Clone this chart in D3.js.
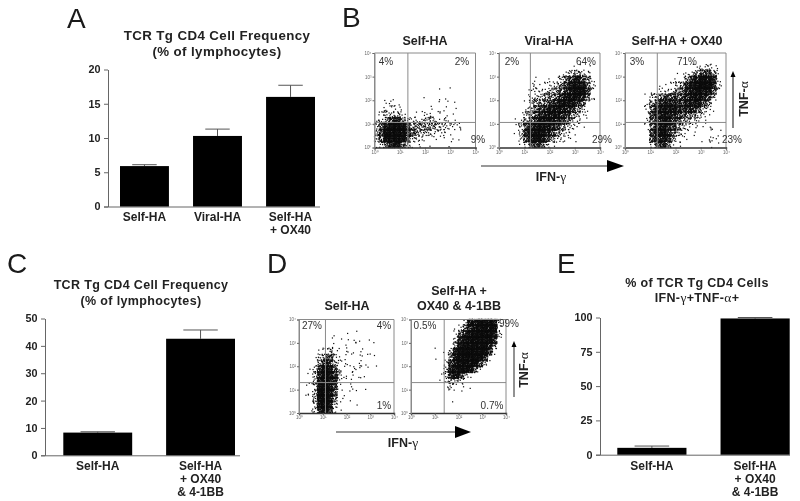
<!DOCTYPE html>
<html><head><meta charset="utf-8">
<script src="https://cdn.jsdelivr.net/npm/d3@7"></script>
<style>
html,body{margin:0;padding:0;background:#fff}
svg{display:block;filter:blur(.5px)}
text{font-family:"Liberation Sans",Arial,sans-serif;fill:#222}
.b{font-weight:700}
.g{font-family:"Liberation Serif",serif;font-weight:400}
</style></head><body>
<svg id="c" width="800" height="501"></svg>
<script>
// ---- bar data
const catsA = [["Self-HA"],["Viral-HA"],["Self-HA","+ OX40"]];
const valsA = [5.9,10.3,16.0];
const topsA = [6.1,11.3,17.7];
const ticksA = [0,5,10,15,20];
const catsC = [["Self-HA"],["Self-HA","+ OX40","& 4-1BB"]];
const valsC = [8.3,42.6];
const topsC = [8.6,45.8];
const ticksC = [0,10,20,30,40,50];
const catsE = [["Self-HA"],["Self-HA","+ OX40","& 4-1BB"]];
const valsE = [5,99.3];
const topsE = [6.3,100];
const ticksE = [0,25,50,75,100];
const titleAC = ["TCR Tg CD4 Cell Frequency","(% of lymphocytes)"];

// ---- flow-plot data. Each grid is a density map:
// 16 rows (top = 10^4) x 20 columns (left = 10^0), digit 0-9 = relative dot density.
// The dots are a fixed stipple of these cells, not the original individual events.
const logTicks = [1,10,100,1000,10000];
const tickNames = ["10⁰","10¹","10²","10³","10⁴"];
const gridB1 = [
"00000000000000000000","00000000000000000000","00000000000000000000","00000000000000000000",
"00000000000000000000","00000000000010100000","00000000000000000000","00100000010001100000",
"00121000000110101000","01222100001111101000","02333211112211110000","23477532233322211000",
"35899964444433222100","36999975433222111000","35999963221111011000","23578531111000110000"];
const gridB2 = [
"00000000000000000000","00000000000000000000","00000000000000011100","00000000000012343210",
"00000011011235686420","00000012122346888520","00000022233457899620","00000023344578988420",
"00000134456788865200","00000235678887643100","00001346788876432100","00012457888765321100",
"00013678987643211000","00013789976432110000","00002689864321100000","00001356531100010000"];
const gridB3 = [
"00000000000000000000","00000000000000000000","00000000000001223210","00000000001123466420",
"00000000011247899720","00000001123478999720","00000112234578988520","00001345665678976300",
"00002467776677854100","00002578887677532100","00002678876554321000","00002578865432211000",
"00001578764321111110","00001689753211101110","00000678742110001210","00000357421100011110"];
const gridD1 = [
"00000000000000000000","00000000000000000000","00000001001010000000","00000001011110100000",
"00000111111111010000","00001232111111100000","00013453111111110000","00014763211111101000",
"00136985211211100000","00137986311111000000","00138987211110000000","01138986111100100000",
"01139985111010000000","01139984111000000000","00138983100010000000","00127962100000000000"];
const gridD2 = [
"00000000001288999830","00000000012578999920","00000000025789999830","00000000037899999700",
"00000100148999998400","00000001389999996200","00000101489999972000","00000002689999630000",
"00000003789985200000","00000013786310000000","00000012432100000000","00000001211010000000",
"00000000101000000000","00000000100000000000","00000000000000000000","00000000000000000000"];
const titlesB = ["Self-HA","Viral-HA","Self-HA + OX40"];
const pctB = [["4%","2%","9%"],["2%","64%","29%"],["3%","71%","23%"]];
const pctD = [["27%","4%","1%"],["0.5%","99%","0.7%"]];
const gammaName = ["IFN-","γ"], alphaName = ["TNF-","α"];

const svg = d3.select("#c");
// Fixed placement tables for the stipple inside a density cell
const stippleX = [.07,.53,.81,.29,.95,.41,.67,.13,.75,.35,.59,.01,.89,.23,.47,.71,.17];
const stippleY = [.61,.11,.83,.37,.03,.73,.47,.93,.19,.55,.29,.87,.67,.07,.41,.97,.23,.79,.51];

function barPanel(o){
  const g = svg.append("g");
  const y = d3.scaleLinear().domain([0,o.ticks[o.ticks.length-1]]).range([o.y0,o.y1]);
  const x = d3.scaleBand().domain(o.cats.map((d,i)=>i)).range(o.xr).paddingInner(.33);
  g.append("g").attr("transform",`translate(${o.ax},0)`)
    .call(d3.axisLeft(y).tickValues(o.ticks).tickSize(4).tickSizeOuter(0).tickPadding(3.5))
    .call(s=>{s.selectAll("path,line").attr("stroke","#666").attr("stroke-width",1);
      s.selectAll("text").attr("class","b").style("font-size","10.8px").attr("font-family",null);});
  g.append("line").attr("x1",o.ax-4).attr("x2",o.axEnd).attr("y1",o.y0+.5).attr("y2",o.y0+.5).attr("stroke","#666");
  g.selectAll(".err").data(o.tops).join("g").each(function(t,i){
    const s=d3.select(this), cx=x(i)+x.bandwidth()/2, w=x.bandwidth()/4;
    s.append("line").attr("x1",cx).attr("x2",cx).attr("y1",y(t)).attr("y2",y(o.vals[i])).attr("stroke","#555");
    s.append("line").attr("x1",cx-w).attr("x2",cx+w).attr("y1",y(t)).attr("y2",y(t)).attr("stroke","#555");
  });
  g.selectAll(".bar").data(o.vals).join("rect").attr("x",(d,i)=>x(i)).attr("width",x.bandwidth())
    .attr("y",d=>y(d)).attr("height",d=>o.y0-y(d)).attr("fill","#000");
  o.cats.forEach((lines,i)=>lines.forEach((t,j)=>{
    g.append("text").attr("class","b").attr("text-anchor","middle").style("font-size","12px")
      .attr("x",x(i)+x.bandwidth()/2).attr("y",o.labelY+j*13.2).text(t);
  }));
}

function addGreek(sel,parts,size){
  sel.append("tspan").text(parts[0]);
  sel.append("tspan").attr("class","g").style("font-size",(size+1)+"px").text(parts[1]);
}

function flowPanel(o){
  const g = svg.append("g");
  const x = d3.scaleLog().domain([1,1e4]).range([o.x0,o.x0+o.w]);
  const y = d3.scaleLog().domain([1,1e4]).range([o.y0,o.y0-o.h]);
  const pts=[];
  o.grid.forEach((row,r)=>row.split("").forEach((ch,c)=>{
    const n=Math.round(Math.pow(+ch/9,2)*80);
    for(let i=0;i<n;i++){
      const fx=stippleX[(i*3+c*5+r*2)%17], fy=stippleY[(i*7+c*3+r*11)%19];
      const lx=(c+fx*1.25-.125)/5, ly=4-(r+fy*1.25-.125)/4;
      pts.push([Math.pow(10,Math.max(0,lx)),Math.pow(10,Math.min(4,Math.max(0,ly)))]);
    }
  }));
  g.selectAll("rect.d").data(pts).join("rect").attr("x",d=>x(d[0])-.6).attr("y",d=>y(d[1])-.6)
    .attr("width",1.2).attr("height",1.2).attr("fill","#0c0c0c");
  g.append("path").attr("d",`M${o.x0},${o.y0}V${o.y0-o.h}H${o.x0+o.w}V${o.y0}`).attr("fill","none").attr("stroke","#8a8a8a");
  g.append("line").attr("x1",x(o.gx)).attr("x2",x(o.gx)).attr("y1",o.y0).attr("y2",o.y0-o.h).attr("stroke","#8a8a8a");
  g.append("line").attr("x1",o.x0).attr("x2",o.x0+o.w).attr("y1",y(o.gy)).attr("y2",y(o.gy)).attr("stroke","#8a8a8a");
  const fmt=v=>tickNames[logTicks.indexOf(v)];
  g.append("g").attr("transform",`translate(0,${o.y0})`)
    .call(d3.axisBottom(x).tickValues(logTicks).tickFormat(fmt).tickSize(2).tickPadding(1))
    .call(s=>{s.select("path").attr("stroke","#333").attr("stroke-width",1.4);
      s.selectAll("line").attr("stroke","#555");
      s.selectAll("text").style("font-size","4.5px").style("fill","#666").attr("font-family",null);});
  g.append("g").attr("transform",`translate(${o.x0},0)`)
    .call(d3.axisLeft(y).tickValues(logTicks).tickFormat(fmt).tickSize(2).tickPadding(1))
    .call(s=>{s.select("path").attr("stroke","#8a8a8a");
      s.selectAll("line").attr("stroke","#666");
      s.selectAll("text").style("font-size","4.5px").style("fill","#666").attr("font-family",null);});
  o.pct.forEach((t,i)=>{
    g.append("text").attr("text-anchor","middle").style("font-size","10px").style("fill","#333")
      .attr("x",o.pctX[i]).attr("y",o.pctY[i]).text(t);
  });
}

function label(t,x,y,size,bold,anchor){
  return svg.append("text").attr("class",bold?"b":null).attr("x",x).attr("y",y)
    .attr("text-anchor",anchor||"middle").style("font-size",size+"px").text(t);
}

[["A",67,28],["B",342,27],["C",7,273],["D",267,273],["E",557,273]].forEach(d=>{
  label(d[0],d[1],d[2],28,false,"start").style("fill","#1a1a1a");
});

barPanel({cats:catsA,vals:valsA,tops:topsA,ticks:ticksA,y0:206.5,y1:69.5,ax:108,axEnd:320,xr:[120,315],labelY:220.5});
barPanel({cats:catsC,vals:valsC,tops:topsC,ticks:ticksC,y0:455.3,y1:318.5,ax:45,axEnd:240,xr:[63.3,235],labelY:470});
barPanel({cats:catsE,vals:valsE,tops:topsE,ticks:ticksE,y0:454.7,y1:317.5,ax:600,axEnd:790,xr:[617.3,789.7],labelY:470});
titleAC.forEach((t,i)=>{
  label(t,217,40+i*16,13.3,true).style("letter-spacing",".4px");
  label(t,141,289+i*16,12.5,true).style("letter-spacing",".35px");
});
label("% of TCR Tg CD4 Cells",697,287,12.5,true).style("letter-spacing",".35px");
const e2=label("",697,302,12.5,true).style("letter-spacing",".35px");
e2.append("tspan").text("IFN-");e2.append("tspan").attr("class","g").style("font-size","13.5px").text("γ");
e2.append("tspan").text("+TNF-");e2.append("tspan").attr("class","g").style("font-size","13.5px").text("α");
e2.append("tspan").text("+");

flowPanel({grid:gridB1,x0:374.5,w:101,y0:147.5,h:94.5,gx:21,gy:11.5,pct:pctB[0],pctX:[386,462,478],pctY:[65,65,143]});
flowPanel({grid:gridB2,x0:499,w:101,y0:147.5,h:94.5,gx:17.5,gy:11.5,pct:pctB[1],pctX:[512,586,602],pctY:[65,65,143]});
flowPanel({grid:gridB3,x0:625,w:101,y0:147.5,h:94.5,gx:19,gy:11.5,pct:pctB[2],pctX:[637,687,732],pctY:[65,65,143]});
titlesB.forEach((t,i)=>label(t,[425,549,677][i],45,12.5,true));

flowPanel({grid:gridD1,x0:299,w:95,y0:413,h:93.5,gx:13,gy:20,pct:pctD[0],pctX:[312,384,384],pctY:[329,329,409]});
flowPanel({grid:gridD2,x0:411,w:95,y0:413,h:93.5,gx:25,gy:20,pct:pctD[1],pctX:[425,509,492],pctY:[329,327,409]});
label("Self-HA",347,310,12.5,true);
label("Self-HA +",459,295,12.5,true);
label("OX40 & 4-1BB",459,310,12.5,true);

function hArrow(x1,x2,x3,y,c,w){
  svg.append("line").attr("x1",x1).attr("x2",x2).attr("y1",y).attr("y2",y).attr("stroke",c).attr("stroke-width",w);
  svg.append("path").attr("d",`M${x2},${y-6}L${x3},${y}L${x2},${y+6}Z`).attr("fill","#000");
}
function vArrow(x,y1,y2,y3,c,w){
  svg.append("line").attr("x1",x).attr("x2",x).attr("y1",y1).attr("y2",y2).attr("stroke",c).attr("stroke-width",w);
  svg.append("path").attr("d",`M${x-2.5},${y2}L${x},${y3}L${x+2.5},${y2}Z`).attr("fill","#000");
}
hArrow(481,607,624,166,"#333",1.2);
addGreek(label("",551,181,12.5,true),gammaName,12.5);
vArrow(733,128,77,71,"#333",1.2);
addGreek(label("",0,0,12.5,true).attr("transform","translate(748,99) rotate(-90)"),alphaName,12.5);
hArrow(336,455,471,432,"#777",1.6);
addGreek(label("",403,447,12.5,true),gammaName,12.5);
vArrow(514,397,347,341,"#777",1.6);
addGreek(label("",0,0,12.5,true).attr("transform","translate(528,370) rotate(-90)"),alphaName,12.5);
</script>
</body></html>
